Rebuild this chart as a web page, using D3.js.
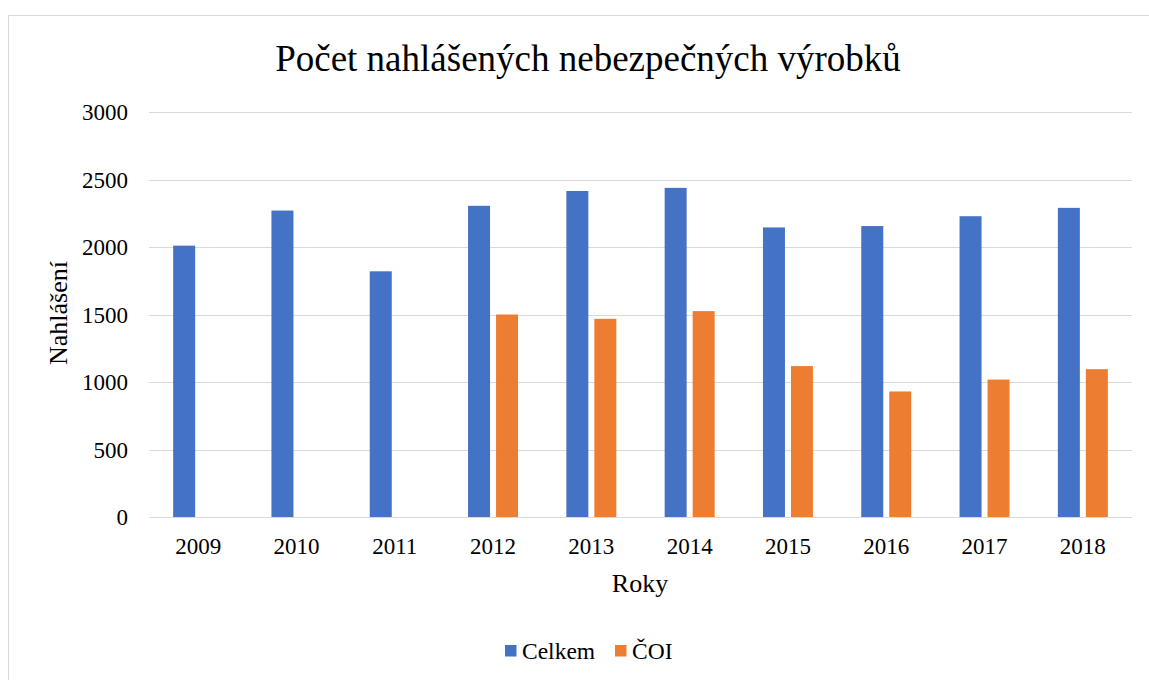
<!DOCTYPE html>
<html>
<head>
<meta charset="utf-8">
<script src="https://cdn.jsdelivr.net/npm/d3@7"></script>
<style>
  body { margin: 0; background: #fff; }
  svg text { font-family: "Liberation Serif", "Times New Roman", serif; fill: #000; }
</style>
</head>
<body>
<div id="chart"></div>
<script>
// data
const years = ["2009", "2010", "2011", "2012", "2013", "2014", "2015", "2016", "2017", "2018"];
const celkem = [2010, 2270, 1820, 2305, 2415, 2438, 2145, 2155, 2228, 2290];
const coi = [null, null, null, 1500, 1468, 1525, 1118, 930, 1018, 1095];
const seriesNames = ["Celkem", "ČOI"];
const seriesColors = ["#4472C4", "#ED7D31"];
const yTicks = [0, 500, 1000, 1500, 2000, 2500, 3000];

const width = 1149, height = 680;
const margin = { left: 149, right: 17, top: 112, bottom: 163 };

const svg = d3.select("#chart")
    .append("svg")
    .attr("width", width)
    .attr("height", height);

// outer frame
svg.append("rect")
    .attr("x", 8.5).attr("y", 15.5)
    .attr("width", 1160).attr("height", 700)
    .attr("fill", "none")
    .attr("stroke", "#d9d9d9")
    .attr("stroke-width", 1);

const x = d3.scaleBand()
    .domain(years)
    .range([margin.left, width - margin.right]);

const y = d3.scaleLinear()
    .domain([0, 3000])
    .range([height - margin.bottom, margin.top]);

// gridlines
svg.append("g")
    .selectAll("line")
    .data(yTicks)
    .enter().append("line")
    .attr("x1", margin.left)
    .attr("x2", width - margin.right)
    .attr("y1", d => Math.round(y(d)) + 0.5)
    .attr("y2", d => Math.round(y(d)) + 0.5)
    .attr("stroke", "#d9d9d9")
    .attr("stroke-width", 1.2);

// y tick labels
svg.append("g")
    .selectAll("text")
    .data(yTicks)
    .enter().append("text")
    .attr("x", 128)
    .attr("y", d => y(d) + 8)
    .attr("text-anchor", "end")
    .style("font-size", "23px")
    .text(d => d);

// bars
const barW = 22, gap = 6;
const data = [celkem, coi];
data.forEach((vals, i) => {
    svg.append("g")
        .selectAll("rect")
        .data(years.map((yr, j) => ({ yr: yr, v: vals[j] })).filter(d => d.v != null))
        .enter().append("rect")
        .attr("x", d => x(d.yr) + x.bandwidth() / 2 + (i === 0 ? -(barW + gap / 2) : gap / 2))
        .attr("y", d => y(d.v))
        .attr("width", barW)
        .attr("height", d => y(0) - y(d.v))
        .attr("fill", seriesColors[i]);
});

// x tick labels
svg.append("g")
    .selectAll("text")
    .data(years)
    .enter().append("text")
    .attr("x", d => x(d) + x.bandwidth() / 2)
    .attr("y", 554)
    .attr("text-anchor", "middle")
    .style("font-size", "23px")
    .text(d => d);

// title
svg.append("text")
    .attr("x", 588)
    .attr("y", 71)
    .attr("text-anchor", "middle")
    .style("font-size", "37px")
    .text("Počet nahlášených nebezpečných výrobků");

// axis titles
svg.append("text")
    .attr("x", 640)
    .attr("y", 592)
    .attr("text-anchor", "middle")
    .style("font-size", "26px")
    .text("Roky");

svg.append("text")
    .attr("transform", "translate(67,313) rotate(-90)")
    .attr("text-anchor", "middle")
    .style("font-size", "26px")
    .text("Nahlášení");

// legend
const legendX = [505, 615];
seriesNames.forEach((name, i) => {
    svg.append("rect")
        .attr("x", legendX[i])
        .attr("y", 645)
        .attr("width", 11.5)
        .attr("height", 11.5)
        .attr("fill", seriesColors[i]);
    svg.append("text")
        .attr("x", legendX[i] + 17)
        .attr("y", 659)
        .style("font-size", "23.5px")
        .text(name);
});
</script>
</body>
</html>
